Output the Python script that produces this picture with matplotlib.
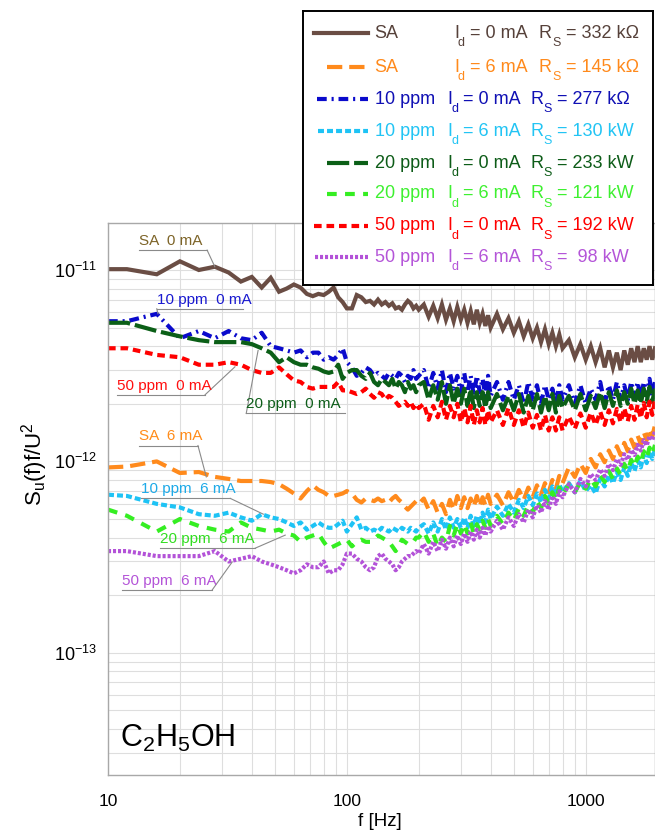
import numpy as np
import matplotlib
matplotlib.use('Agg')
import matplotlib.pyplot as plt
from matplotlib.ticker import FuncFormatter, NullFormatter, FixedLocator

plt.rcParams['font.family'] = ['Liberation Sans', 'DejaVu Sans']
plt.rcParams['mathtext.fontset'] = 'custom'
plt.rcParams['mathtext.rm'] = 'Liberation Sans'
plt.rcParams['mathtext.it'] = 'Liberation Sans:italic'
plt.rcParams['axes.unicode_minus'] = False
plt.rcParams['lines.scale_dashes'] = False

# frequency bins [Hz]
freq = np.concatenate([[10, 12], np.arange(16, 101, 4), np.arange(105, 201, 5),
                       np.arange(210, 401, 10), np.arange(425, 801, 25),
                       np.arange(850, 1951, 50)])

# normalised noise spectra, units of 1e-12
sa_0 = [10.1, 10.1, 9.5, 11.1, 10.0, 10.4, 9.7, 8.7, 9.2, 8.1, 9.1, 7.7, 8.0, 8.4, 8.1, 7.5, 7.3, 7.5, 7.4, 7.7, 8.1, 7.2, 6.8, 6.3,
        6.3, 7.4, 7.2, 6.8, 6.9, 6.6, 7.0, 6.6, 6.8, 6.5, 6.7, 6.3, 6.4, 6.2, 6.6, 6.9, 6.7, 6.3, 6.5, 6.2,
        6.6, 5.7, 6.5, 5.6, 6.6, 5.5, 6.3, 5.4, 6.4, 5.5, 6.2, 5.3, 6.1, 5.2, 6.2, 5.3, 5.9, 5.1, 5.8, 5.0,
        5.9, 4.9, 5.6, 4.7, 5.4, 4.5, 5.2, 4.4, 5.0, 4.2, 4.9, 4.1, 4.7, 4.0, 4.6, 3.9,
        4.3, 3.5, 4.1, 3.4, 4.0, 3.3, 3.9, 3.1, 3.8, 3.1, 3.7, 3.0, 3.8, 3.2, 3.9, 3.3, 4.0, 3.3, 3.9, 3.4, 4.0, 3.4, 3.9]
sa_6 = [0.93, 0.94, 1.0, 0.87, 0.88, 0.83, 0.81, 0.79, 0.79, 0.79, 0.78, 0.76, 0.72, 0.68, 0.64, 0.70, 0.75, 0.71, 0.69, 0.66, 0.66, 0.67, 0.68, 0.70,
        0.68, 0.63, 0.61, 0.64, 0.63, 0.62, 0.64, 0.62, 0.63, 0.61, 0.64, 0.66, 0.63, 0.61, 0.58, 0.56, 0.58, 0.60, 0.62, 0.60,
        0.64, 0.56, 0.62, 0.54, 0.60, 0.53, 0.63, 0.56, 0.66, 0.57, 0.65, 0.57, 0.64, 0.58, 0.66, 0.58, 0.65, 0.59, 0.67, 0.60,
        0.67, 0.59, 0.69, 0.61, 0.71, 0.63, 0.73, 0.65, 0.75, 0.67, 0.77, 0.69, 0.80, 0.72, 0.84, 0.77,
        0.93, 0.83, 0.97, 0.87, 1.03, 0.93, 1.09, 0.99, 1.14, 1.03, 1.20, 1.08, 1.25, 1.13, 1.30, 1.18, 1.36, 1.23, 1.42, 1.29, 1.48, 1.35, 1.55]
ppm10_0 = [5.4, 5.4, 5.9, 4.4, 4.8, 4.4, 4.8, 4.4, 4.3, 4.7, 4.0, 3.9, 3.8, 3.7, 3.8, 3.5, 3.7, 3.7, 3.4, 3.5, 3.4, 3.6, 3.9, 3.3,
           3.1, 2.8, 2.9, 3.1, 3.0, 2.8, 2.9, 2.8, 2.7, 2.9, 2.8, 2.7, 2.9, 2.8, 2.6, 2.8, 2.7, 3.0, 2.7, 2.8,
           3.0, 2.4, 2.9, 2.4, 3.0, 2.3, 2.9, 2.4, 2.8, 2.3, 2.9, 2.3, 2.8, 2.2, 2.8, 2.3, 2.7, 2.2, 2.8, 2.2,
           2.6, 2.1, 2.6, 2.1, 2.5, 2.0, 2.6, 2.1, 2.5, 2.0, 2.5, 2.1, 2.4, 2.0, 2.5, 2.1,
           2.5, 2.0, 2.5, 2.0, 2.4, 2.1, 2.6, 2.0, 2.5, 2.1, 2.6, 2.1, 2.5, 2.1, 2.6, 2.2, 2.6, 2.1, 2.6, 2.2, 2.7, 2.2, 2.6]
ppm10_6 = [0.67, 0.66, 0.60, 0.575, 0.53, 0.52, 0.54, 0.51, 0.49, 0.53, 0.51, 0.50, 0.48, 0.46, 0.48, 0.44, 0.46, 0.48, 0.46, 0.45, 0.45, 0.47, 0.49, 0.43,
           0.47, 0.51, 0.44, 0.45, 0.43, 0.44, 0.43, 0.45, 0.44, 0.43, 0.45, 0.44, 0.43, 0.45, 0.44, 0.43, 0.45, 0.44, 0.43, 0.45,
           0.47, 0.42, 0.48, 0.43, 0.50, 0.44, 0.51, 0.45, 0.50, 0.45, 0.51, 0.45, 0.52, 0.46, 0.52, 0.47, 0.54, 0.48, 0.56, 0.50,
           0.58, 0.52, 0.60, 0.54, 0.63, 0.57, 0.66, 0.59, 0.68, 0.61, 0.71, 0.64, 0.74, 0.67, 0.76, 0.69,
           0.77, 0.69, 0.79, 0.70, 0.75, 0.68, 0.81, 0.74, 0.85, 0.77, 0.88, 0.80, 0.93, 0.84, 0.98, 0.89, 1.01, 0.93, 1.08, 0.98, 1.13, 1.03, 1.16]
ppm20_0 = [5.3, 5.3, 4.8, 4.5, 4.3, 4.2, 4.2, 4.2, 4.1, 3.9, 3.7, 3.3, 3.5, 3.3, 3.2, 3.2, 3.1, 3.05, 2.95, 2.9, 2.95, 3.2, 2.7, 2.9,
           3.0, 3.0, 2.8, 2.7, 2.9, 2.6, 2.5, 2.7, 2.6, 2.5, 2.7, 2.4, 2.6, 2.5, 2.3, 2.6, 2.4, 2.5, 2.3, 2.5,
           2.6, 2.1, 2.5, 2.1, 2.6, 2.0, 2.5, 2.0, 2.4, 2.0, 2.4, 1.95, 2.4, 1.9, 2.3, 1.95, 2.3, 1.9, 2.3, 1.9,
           2.25, 1.85, 2.2, 1.85, 2.25, 1.8, 2.2, 1.85, 2.25, 1.8, 2.2, 1.85, 2.25, 1.8, 2.2, 1.9,
           2.2, 1.85, 2.25, 1.85, 2.2, 1.9, 2.3, 1.9, 2.3, 1.95, 2.35, 1.95, 2.3, 2.0, 2.4, 2.0, 2.35, 2.0, 2.4, 2.05, 2.45, 2.05, 2.4]
ppm20_6 = [0.56, 0.52, 0.43, 0.50, 0.46, 0.44, 0.43, 0.48, 0.45, 0.44, 0.43, 0.44, 0.42, 0.41, 0.38, 0.40, 0.41, 0.42, 0.38, 0.35, 0.36, 0.37, 0.38, 0.39,
           0.36, 0.38, 0.39, 0.38, 0.38, 0.39, 0.41, 0.40, 0.39, 0.38, 0.36, 0.34, 0.36, 0.39, 0.38, 0.37, 0.38, 0.38, 0.40, 0.40,
           0.43, 0.38, 0.42, 0.36, 0.40, 0.38, 0.46, 0.41, 0.47, 0.42, 0.47, 0.42, 0.48, 0.42, 0.47, 0.44, 0.49, 0.45, 0.50, 0.46,
           0.52, 0.47, 0.54, 0.49, 0.57, 0.52, 0.59, 0.54, 0.62, 0.57, 0.66, 0.60, 0.69, 0.63, 0.73, 0.67,
           0.76, 0.69, 0.78, 0.72, 0.81, 0.74, 0.85, 0.78, 0.89, 0.81, 0.92, 0.85, 0.97, 0.89, 1.02, 0.94, 1.06, 0.98, 1.13, 1.04, 1.18, 1.09, 1.22]
ppm50_0 = [3.9, 3.9, 3.6, 3.5, 3.2, 3.2, 3.3, 3.2, 3.0, 2.9, 2.9, 3.1, 2.85, 2.65, 2.6, 2.45, 2.4, 2.45, 2.45, 2.45, 2.45, 2.6, 2.35, 2.35,
           2.3, 2.25, 2.3, 2.4, 2.25, 2.15, 2.3, 2.25, 2.1, 2.2, 2.15, 2.05, 1.95, 2.0, 2.05, 1.95, 2.05, 1.9, 2.0, 1.9,
           2.0, 1.65, 1.95, 1.7, 2.05, 1.65, 1.95, 1.7, 2.0, 1.6, 1.9, 1.6, 1.95, 1.55, 1.85, 1.6, 1.9, 1.55, 1.85, 1.6,
           1.85, 1.55, 1.9, 1.55, 1.85, 1.5, 1.8, 1.5, 1.75, 1.45, 1.75, 1.45, 1.7, 1.45, 1.7, 1.45,
           1.72, 1.48, 1.78, 1.5, 1.8, 1.55, 1.82, 1.55, 1.85, 1.58, 1.88, 1.6, 1.9, 1.62, 1.95, 1.65, 1.98, 1.68, 2.02, 1.7, 2.05, 1.75, 2.1]
ppm50_6 = [0.34, 0.34, 0.32, 0.32, 0.32, 0.34, 0.30, 0.31, 0.32, 0.30, 0.29, 0.28, 0.27, 0.26, 0.27, 0.29, 0.28, 0.28, 0.30, 0.26, 0.27, 0.27, 0.29, 0.33,
           0.33, 0.31, 0.30, 0.28, 0.27, 0.28, 0.32, 0.33, 0.31, 0.30, 0.29, 0.27, 0.28, 0.30, 0.31, 0.32, 0.32, 0.33, 0.34, 0.33,
           0.37, 0.33, 0.38, 0.34, 0.39, 0.35, 0.40, 0.36, 0.41, 0.37, 0.42, 0.38, 0.43, 0.39, 0.44, 0.40, 0.45, 0.41, 0.46, 0.43,
           0.49, 0.44, 0.51, 0.46, 0.53, 0.48, 0.56, 0.51, 0.59, 0.54, 0.62, 0.56, 0.66, 0.60, 0.70, 0.65,
           0.76, 0.69, 0.81, 0.74, 0.86, 0.80, 0.91, 0.84, 0.97, 0.90, 1.03, 0.96, 1.09, 1.02, 1.15, 1.08, 1.22, 1.14, 1.29, 1.21, 1.36, 1.29, 1.44]

# legend entries
names = ['SA', 'SA', '10 ppm', '10 ppm', '20 ppm', '20 ppm', '50 ppm', '50 ppm']
currents = ['0', '6', '0', '6', '0', '6', '0', '6']
resistances = ['332 k\u03a9', '145 k\u03a9', '277 k\u03a9', '130 kW', '233 kW', '121 kW', '192 kW', ' 98 kW']

series = [sa_0, sa_6, ppm10_0, ppm10_6, ppm20_0, ppm20_6, ppm50_0, ppm50_6]
line_colors = ['#6a4d44', '#ff8a1c', '#0a0acc', '#1ec3f5', '#0b5f17', '#35ee22', '#ff0000', '#b352d8']
text_colors = ['#56413a', '#ff8a1c', '#1010b4', '#22c4f4', '#0d5c18', '#3ef030', '#ff0000', '#b455d8']
dash_styles = [None, (11, 5), (7, 3.5, 1.5, 3.5), (4.3, 2.2), (16, 3.5), (7, 6), (5.5, 3.5), (2.2, 1.4)]

W, H = 655, 835
fig = plt.figure(figsize=(W / 100, H / 100), dpi=100)
ax = fig.add_axes([108 / W, 1 - 775 / H, (W - 108) / W, (775 - 223) / H])

for vals, c, d in zip(series, line_colors, dash_styles):
    y = np.array(vals) * 1e-12
    if d is None:
        ax.plot(freq, y, color=c, lw=3, solid_joinstyle='miter')
    else:
        ax.plot(freq, y, color=c, lw=3, dashes=d, dash_capstyle='butt')

ax.set_xscale('log')
ax.set_yscale('log')
ax.set_xlim(10, 1950)
ax.set_ylim(2.3e-14, 1.76e-11)
ax.xaxis.set_major_locator(FixedLocator([10, 100, 1000]))
ax.yaxis.set_major_locator(FixedLocator([1e-13, 1e-12, 1e-11]))
ax.grid(True, which='both', color='#dedede', lw=0.8)
ax.set_axisbelow(True)
for s in ax.spines.values():
    s.set_color('#a8a8a8')
    s.set_linewidth(1)
ax.xaxis.set_major_formatter(FuncFormatter(lambda v, _: f'{v:.0f}'))
ax.xaxis.set_minor_formatter(NullFormatter())
ax.yaxis.set_minor_formatter(NullFormatter())
ax.tick_params(which='both', length=0)
ax.tick_params(axis='y', pad=8, labelsize=13)
ax.tick_params(axis='x', pad=14, labelsize=12.5)

fig.text(380 / W, 1 - 822 / H, 'f [Hz]', ha='center', va='center', fontsize=13.5)
fig.text(35 / W, 1 - 464 / H, r'$\mathregular{S_u(f)f/U^2}$', rotation=90,
         ha='center', va='center', fontsize=16)
ax.text(0.022, 0.05, r'$\mathregular{C_2H_5OH}$', transform=ax.transAxes,
        ha='left', va='baseline', fontsize=22)

# curve labels: text, underline span, underline level, leader end point
ann_text = ['SA  0 mA', '10 ppm  0 mA', '50 ppm  0 mA', '20 ppm  0 mA',
            'SA  6 mA', '10 ppm  6 mA', '20 ppm  6 mA', '50 ppm  6 mA']
ann_colors = ['#7d6428', '#1a1ad0', '#ff1010', '#0e5e1a',
              '#ff8c1a', '#1eaae8', '#33dd22', '#b455d8']
ann_left = [13.5, 16.0, 10.9, 37.9, 13.5, 13.8, 16.5, 11.4]
ann_right = [26.0, 36.8, 25.5, 98.6, 23.8, 32.5, 41.3, 27.3]
ann_level = [12.7, 6.27, 2.23, 1.78, 1.21, 0.641, 0.352, 0.213]
ann_from_left = [False, True, False, True, False, False, False, False]
ann_target = [(28, 10.4), (16.2, 5.9), (34, 3.12), (42.5, 3.8),
              (25.8, 0.83), (44.7, 0.53), (55.2, 0.412), (33.1, 0.298)]

for txt, c, x0, x1, lvl, fl, tgt in zip(ann_text, ann_colors, ann_left, ann_right,
                                        ann_level, ann_from_left, ann_target):
    yl = lvl * 1e-12
    ax.annotate(txt, xy=(x0, yl), xytext=(0, 1.5), textcoords='offset points',
                ha='left', va='bottom', color=c, fontsize=11)
    start = x0 if fl else x1
    ax.plot([x0, x1], [yl, yl], color='#8a8a8a', lw=0.8)
    ax.plot([start, tgt[0]], [yl, tgt[1] * 1e-12], color='#8a8a8a', lw=0.8)

# legend box, laid out in pixel units
lax = fig.add_axes([303 / W, 1 - 285 / H, 350 / W, 274 / H], zorder=5)
lax.set_xlim(303, 653)
lax.set_ylim(285, 11)
lax.set_xticks([])
lax.set_yticks([])
for s in lax.spines.values():
    s.set_color('black')
    s.set_linewidth(1.4)

row_y = [33, 67, 99, 131, 163, 194, 226, 257]
line_x0 = [314, 327, 317, 318, 327, 327, 314, 315]
for i in range(8):
    yy = row_y[i]
    c, tc, d = line_colors[i], text_colors[i], dash_styles[i]
    if d is None:
        lax.plot([line_x0[i], 368], [yy, yy], color=c, lw=3)
    else:
        lax.plot([line_x0[i], 368], [yy, yy], color=c, lw=3, dashes=d, dash_capstyle='butt')
    if names[i] == 'SA':
        xn, xi, xr = 374, 454, 539
    else:
        xn, xi, xr = 375, 447, 530
    kw = dict(color=tc, va='center', ha='left')
    lax.text(xn, yy, names[i], fontsize=13, **kw)
    lax.text(xi, yy, 'I', fontsize=13, **kw)
    lax.text(xi + 4, yy + 10, 'd', fontsize=9, **kw)
    lax.text(xi + 16, yy, f'= {currents[i]} mA', fontsize=13, **kw)
    lax.text(xr, yy, 'R', fontsize=13, **kw)
    lax.text(xr + 13, yy + 10, 'S', fontsize=9, **kw)
    lax.text(xr + 27, yy, f'= {resistances[i]}', fontsize=13, **kw)

fig.savefig('out.png', dpi=100)
